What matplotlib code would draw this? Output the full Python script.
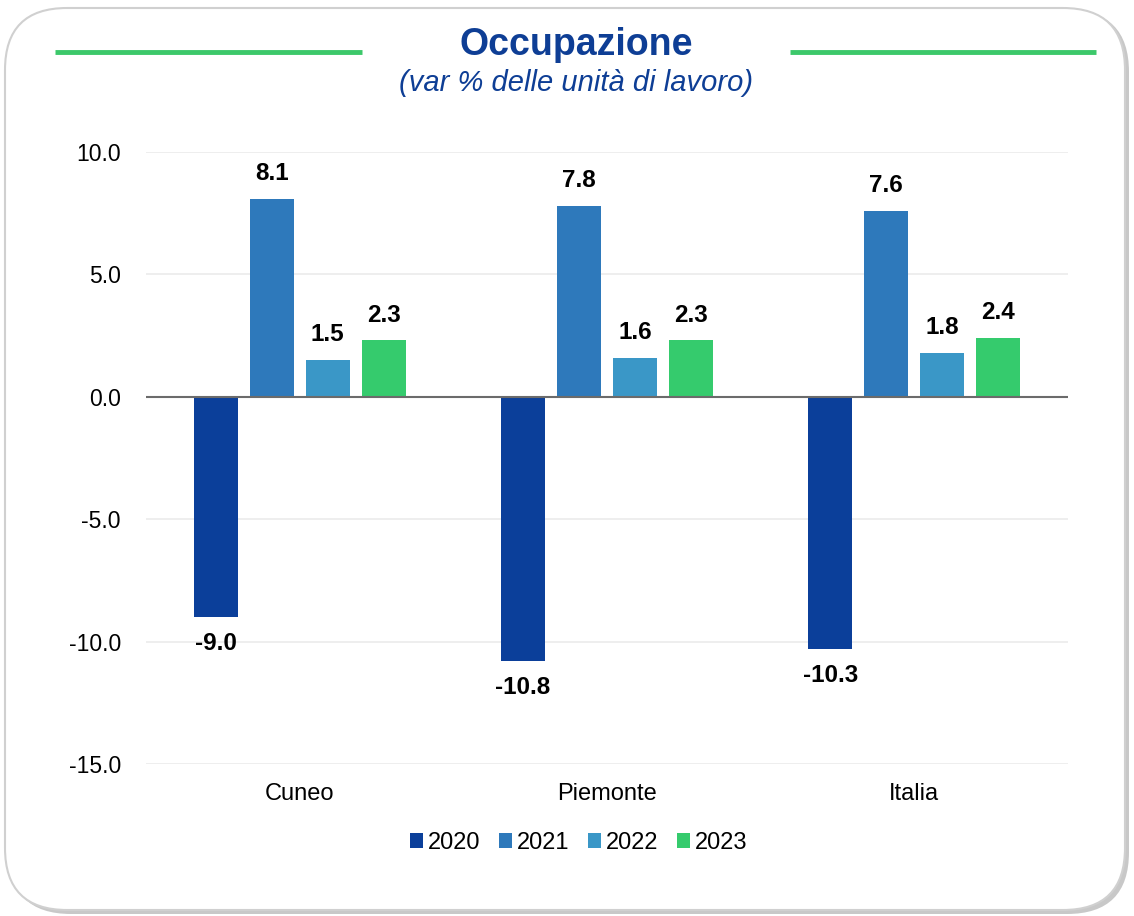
import matplotlib
matplotlib.use("Agg")
import matplotlib.pyplot as plt
from matplotlib.patches import FancyBboxPatch
import numpy as np

plt.rcParams['font.family'] = ['Liberation Sans', 'DejaVu Sans']

categories = ["Cuneo", "Piemonte", "Italia"]
years = ["2020", "2021", "2022", "2023"]
values = {
    "2020": [-9.0, -10.8, -10.3],
    "2021": [8.1, 7.8, 7.6],
    "2022": [1.5, 1.6, 1.8],
    "2023": [2.3, 2.3, 2.4],
}
colors = ["#0B3F9A", "#2E79BB", "#3A97C7", "#35CB6D"]
yticks = [-15.0, -10.0, -5.0, 0.0, 5.0, 10.0]

W, H = 1134, 916
fig = plt.figure(figsize=(W / 100, H / 100), dpi=100)

# background frame
bg = fig.add_axes([0, 0, 1, 1])
bg.set_xlim(0, W)
bg.set_ylim(0, H)
bg.axis("off")
shadow = FancyBboxPatch((9, 2), W - 14, H - 12, boxstyle="round,pad=0,rounding_size=62",
                        fc="#c8c8c8", ec="none", zorder=0)
bg.add_patch(shadow)
frame = FancyBboxPatch((5, 6), W - 14, H - 14, boxstyle="round,pad=0,rounding_size=62",
                       fc="white", ec="#d0d0d0", lw=1.5, zorder=1)
bg.add_patch(frame)
bg.plot([55, 362], [H - 52, H - 52], color="#3CC86A", lw=3.5, zorder=2, solid_capstyle="butt")
bg.plot([790, 1096], [H - 52, H - 52], color="#3CC86A", lw=3.5, zorder=2, solid_capstyle="butt")
bg.text(576, H - 45, "Occupazione", ha="center", va="center", fontsize=27,
        fontweight="bold", color="#0E3E95", zorder=3)
bg.text(576, H - 83, "(var % delle unità di lavoro)", ha="center", va="center",
        fontsize=21, style="italic", color="#0E3E95", zorder=3)

ax = fig.add_axes([146 / W, 152 / H, (1068 - 146) / W, (764 - 152) / H])
ax.set_facecolor("none")
x = np.arange(len(categories))
step = 0.1822
width = 0.143
for i, (yr, col) in enumerate(zip(years, colors)):
    offs = (i - 1.5) * step
    bars = ax.bar(x + offs, values[yr], width, color=col, label=yr, zorder=3)
    for xi, v in zip(x + offs, values[yr]):
        if v >= 0:
            ax.annotate(f"{v:.1f}", (xi, v), xytext=(0, 10), textcoords="offset points",
                        ha="center", va="bottom", fontsize=17.5, fontweight="bold")
        else:
            ax.annotate(f"{v:.1f}", (xi, v), xytext=(0, -11), textcoords="offset points",
                        ha="center", va="top", fontsize=17.5, fontweight="bold")

ax.set_xlim(-0.5, 2.5)
ax.set_ylim(-15, 10)
ax.set_yticks(yticks)
ax.set_yticklabels([f"{t:.1f}" for t in yticks], fontsize=16.5)
ax.set_xticks(x)
ax.set_xticklabels(categories, fontsize=17)
ax.tick_params(length=0)
ax.tick_params(axis="y", pad=18)
ax.tick_params(axis="x", pad=14)
ax.grid(axis="y", color="#ebebeb", lw=1.2, zorder=0)
ax.axhline(0, color="#6b6b6b", lw=1.5, zorder=4)
for s in ax.spines.values():
    s.set_visible(False)

ax.legend(loc="center", bbox_to_anchor=((578.5 - 146) / (1068 - 146), (H - 843 - 152) / (764 - 152)),
          ncol=4, frameon=False, fontsize=17, handlelength=0.55, handleheight=0.6,
          handletextpad=0.2, columnspacing=0.8)

fig.savefig("out.png", dpi=100)
